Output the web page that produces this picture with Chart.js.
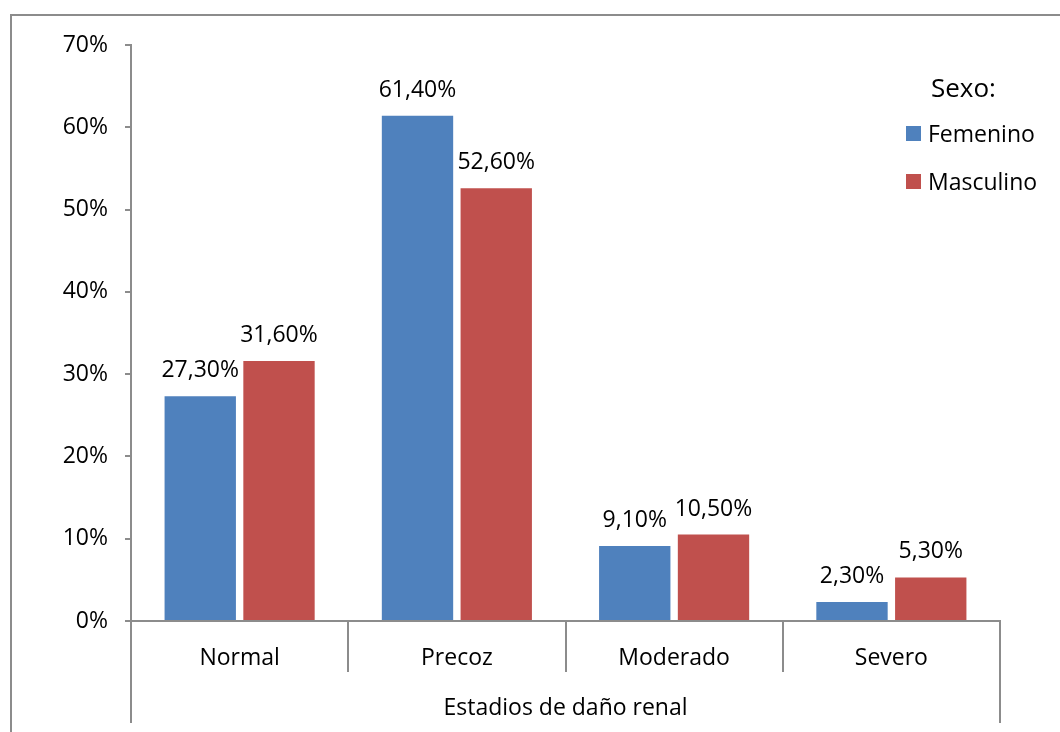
<!DOCTYPE html>
<html>
<head>
<meta charset="utf-8">
<script src="https://cdn.jsdelivr.net/npm/chart.js@4.4.1/dist/chart.umd.min.js"></script>
<style>
  html, body { margin: 0; padding: 0; background: #ffffff; }
  #wrap { width: 1060px; height: 732px; position: relative; }
</style>
</head>
<body>
<div id="wrap"><canvas id="c" width="1060" height="732"></canvas></div>
<script>
// Estadios de daño renal por sexo (%)
const categories = ['Normal', 'Precoz', 'Moderado', 'Severo'];
const femenino = [27.3, 61.4, 9.1, 2.3];
const masculino = [31.6, 52.6, 10.5, 5.3];
const seriesNames = ['Femenino', 'Masculino'];
const legendTitle = 'Sexo:';
const axisTitle = 'Estadios de daño renal';
const yTickValues = [0, 10, 20, 30, 40, 50, 60, 70];

const FONT = "'Open Sans', 'Noto Sans', sans-serif";
const FONT_SIZE = 23;
const AXIS_GREY = '#8c8c8c';
const BLUE = '#4F81BD';
const RED = '#C0504D';

const fmtPct = v => v.toFixed(2).replace('.', ',') + '%';

// Outer frame of the chart object
const framePlugin = {
  id: 'frame',
  beforeDraw(chart) {
    const ctx = chart.ctx;
    ctx.save();
    ctx.fillStyle = '#ffffff';
    ctx.fillRect(0, 0, chart.width, chart.height);
    ctx.strokeStyle = AXIS_GREY;
    ctx.lineWidth = 2;
    ctx.strokeRect(11, 15, 1200, 900);
    ctx.restore();
  }
};

// Value labels above each bar
const valueLabels = {
  id: 'valueLabels',
  afterDatasetsDraw(chart) {
    const ctx = chart.ctx;
    ctx.save();
    ctx.font = FONT_SIZE + 'px ' + FONT;
    ctx.fillStyle = '#000000';
    ctx.textAlign = 'center';
    ctx.textBaseline = 'alphabetic';
    chart.data.datasets.forEach((ds, di) => {
      chart.getDatasetMeta(di).data.forEach((bar, i) => {
        ctx.fillText(fmtPct(ds.data[i]), bar.x, bar.y - 19);
      });
    });
    ctx.restore();
  }
};

// Second-level category frame (outer verticals below the category labels)
const groupFrame = {
  id: 'groupFrame',
  afterDraw(chart) {
    const ctx = chart.ctx;
    const a = chart.chartArea;
    ctx.save();
    ctx.strokeStyle = AXIS_GREY;
    ctx.lineWidth = 2;
    ctx.beginPath();
    ctx.moveTo(a.left, a.bottom + 51);
    ctx.lineTo(a.left, a.bottom + 102);
    ctx.moveTo(a.right, a.bottom + 51);
    ctx.lineTo(a.right, a.bottom + 102);
    ctx.stroke();
    ctx.restore();
  }
};

// Legend with title, placed at the upper right
const legendPlugin = {
  id: 'sideLegend',
  afterDraw(chart) {
    const ctx = chart.ctx;
    ctx.save();
    ctx.fillStyle = '#000000';
    ctx.textAlign = 'left';
    ctx.textBaseline = 'alphabetic';
    ctx.font = '26px ' + FONT;
    ctx.fillText(legendTitle, 931, 97);
    ctx.font = FONT_SIZE + 'px ' + FONT;
    chart.data.datasets.forEach((ds, i) => {
      const top = 126 + i * 48;
      ctx.fillStyle = ds.backgroundColor;
      ctx.fillRect(906, top, 15, 15);
      ctx.fillStyle = '#000000';
      ctx.fillText(ds.label, 928, top + 16);
    });
    ctx.restore();
  }
};

new Chart(document.getElementById('c'), {
  type: 'bar',
  data: {
    labels: categories,
    datasets: [
      { label: seriesNames[0], data: femenino, backgroundColor: BLUE, borderWidth: 0 },
      { label: seriesNames[1], data: masculino, backgroundColor: RED, borderWidth: 0 }
    ]
  },
  options: {
    responsive: false,
    animation: false,
    devicePixelRatio: 1,
    layout: { padding: { top: 45, right: 60, left: 0, bottom: 0 } },
    categoryPercentage: 0.725,
    barPercentage: 0.906,
    plugins: {
      legend: { display: false },
      tooltip: { enabled: false },
      title: { display: false }
    },
    scales: {
      x: {
        type: 'category',
        afterFit(scale) { scale.height = 111; },
        grid: {
          offset: true,
          drawOnChartArea: false,
          drawTicks: true,
          tickLength: 51,
          color: AXIS_GREY,
          lineWidth: 2
        },
        border: { display: true, color: AXIS_GREY, width: 2 },
        ticks: {
          color: '#000000',
          font: { family: FONT, size: FONT_SIZE },
          padding: -27,
          maxRotation: 0,
          autoSkip: false
        },
        title: {
          display: true,
          text: axisTitle,
          color: '#000000',
          font: { family: FONT, size: FONT_SIZE },
          padding: { top: 0, bottom: 10 }
        }
      },
      y: {
        min: 0,
        max: 70,
        afterFit(scale) { scale.width = 131; },
        afterBuildTicks(scale) { scale.ticks = yTickValues.map(v => ({ value: v })); },
        grid: {
          drawOnChartArea: false,
          drawTicks: true,
          tickLength: 6,
          color: AXIS_GREY,
          lineWidth: 2
        },
        border: { display: true, color: AXIS_GREY, width: 2 },
        ticks: {
          color: '#000000',
          font: { family: FONT, size: FONT_SIZE },
          padding: 17,
          callback: v => v + '%'
        }
      }
    }
  },
  plugins: [framePlugin, valueLabels, groupFrame, legendPlugin]
});
</script>
</body>
</html>
